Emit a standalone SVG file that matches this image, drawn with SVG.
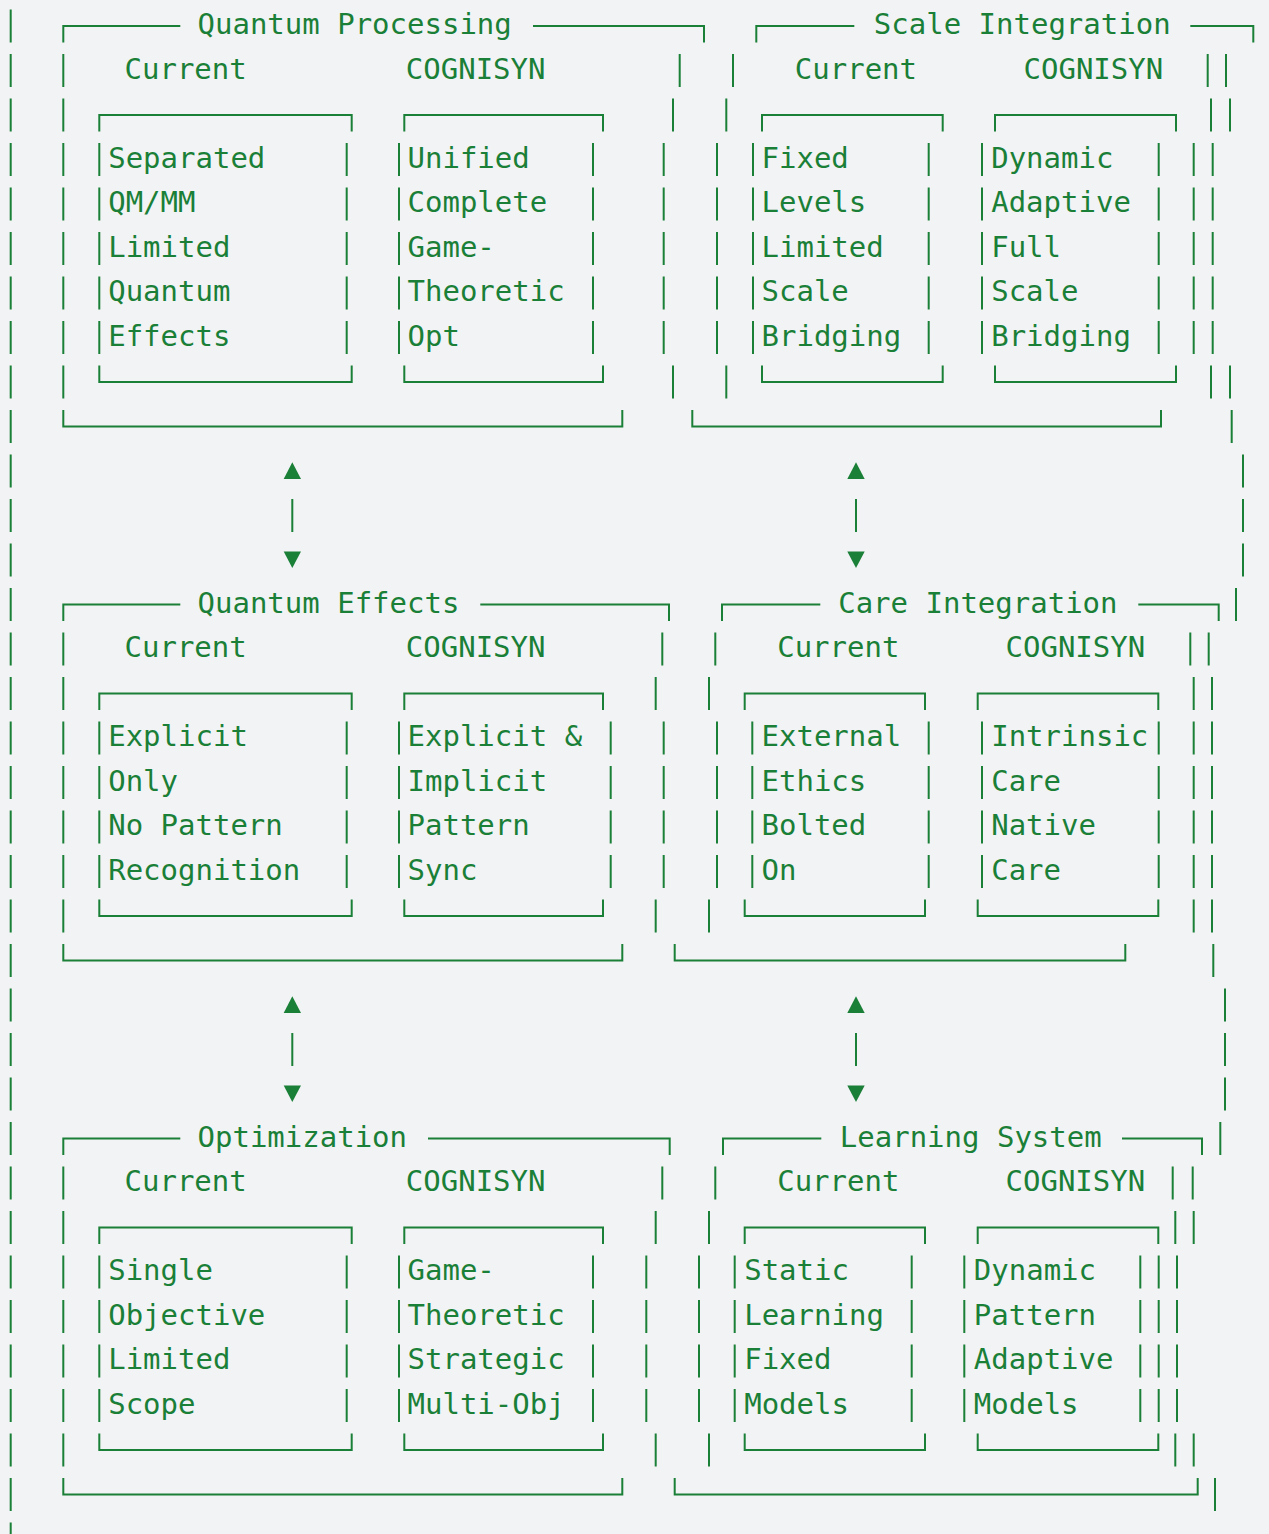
<svg xmlns="http://www.w3.org/2000/svg" width="1269" height="1534" viewBox="0 0 1269 1534">
<style>
.t{font-family:"DejaVu Sans Mono","Liberation Mono",monospace;font-size:29px;fill:#1a7f37}
.l{stroke:#1a7f37;stroke-width:2;fill:none}
.d{stroke-dasharray:33 11.5}
.a{fill:#1a7f37}
</style>
<rect width="1269" height="1534" fill="#f2f3f5"/>
<g id="container">
<line class="l d" x1="10.7" y1="9.5" x2="10.7" y2="1555.5"/>
<path class="l" d="M1226 54V87M1230 98.5V131.5M1230 365.5V398.5M1231.7 410V443M1236 588V621M1208.7 632.5V665.5M1213.3 944V977M1220.3 1122V1155M1192.7 1166.5V1199.5M1193.7 1211V1244M1193.7 1433.5V1466.5M1215 1478V1511"/>
<line class="l d" x1="1212.7" y1="143" x2="1212.7" y2="354"/>
<line class="l d" x1="1243" y1="454.5" x2="1243" y2="576.5"/>
<line class="l d" x1="1212" y1="677" x2="1212" y2="932.5"/>
<line class="l d" x1="1225" y1="988.5" x2="1225" y2="1110.5"/>
<line class="l d" x1="1177" y1="1255.5" x2="1177" y2="1422"/>
</g>
<g id="quantum-processing">
<path class="l" d="M63.3 42.5V26H180.3M533 26H704V42.5M63.3 410V426.5H622.3V410M99.3 131.5V115H351.7V131.5M99.3 365.5V382H351.7V365.5M404.3 131.5V115H603V131.5M404.3 365.5V382H603V365.5M679.7 54V87M673 98.5V131.5M673 365.5V398.5"/>
<line class="l d" x1="63.3" y1="54" x2="63.3" y2="398.5"/>
<line class="l d" x1="99.3" y1="143" x2="99.3" y2="354"/>
<line class="l d" x1="346.7" y1="143" x2="346.7" y2="354"/>
<line class="l d" x1="399" y1="143" x2="399" y2="354"/>
<line class="l d" x1="593" y1="143" x2="593" y2="354"/>
<line class="l d" x1="663.7" y1="143" x2="663.7" y2="354"/>
<text class="t" x="197.5" y="34">Quantum Processing</text>
<text class="t" x="124.5" y="78.5">Current</text>
<text class="t" x="405.8" y="78.5">COGNISYN</text>
<text class="t"><tspan x="108.2" y="167.5">Separated</tspan><tspan x="108.2" dy="44.5">QM/MM</tspan><tspan x="108.2" dy="44.5">Limited</tspan><tspan x="108.2" dy="44.5">Quantum</tspan><tspan x="108.2" dy="44.5">Effects</tspan></text>
<text class="t"><tspan x="407.5" y="167.5">Unified</tspan><tspan x="407.5" dy="44.5">Complete</tspan><tspan x="407.5" dy="44.5">Game-</tspan><tspan x="407.5" dy="44.5">Theoretic</tspan><tspan x="407.5" dy="44.5">Opt</tspan></text>
</g>
<g id="scale-integration">
<path class="l" d="M756.3 42.5V26H854.3M1190.3 26H1253.3V42.5M692.3 410V426.5H1161V410M762 131.5V115H942.7V131.5M762 365.5V382H942.7V365.5M995 131.5V115H1176V131.5M995 365.5V382H1176V365.5M733 54V87M726.3 98.5V131.5M726.3 365.5V398.5M1207.7 54V87M1211 98.5V131.5M1211 365.5V398.5"/>
<line class="l d" x1="717" y1="143" x2="717" y2="354"/>
<line class="l d" x1="753" y1="143" x2="753" y2="354"/>
<line class="l d" x1="928.7" y1="143" x2="928.7" y2="354"/>
<line class="l d" x1="982" y1="143" x2="982" y2="354"/>
<line class="l d" x1="1158.7" y1="143" x2="1158.7" y2="354"/>
<line class="l d" x1="1193.7" y1="143" x2="1193.7" y2="354"/>
<text class="t" x="873.8" y="34">Scale Integration</text>
<text class="t" x="794.8" y="78.5">Current</text>
<text class="t" x="1023.5" y="78.5">COGNISYN</text>
<text class="t"><tspan x="761.5" y="167.5">Fixed</tspan><tspan x="761.5" dy="44.5">Levels</tspan><tspan x="761.5" dy="44.5">Limited</tspan><tspan x="761.5" dy="44.5">Scale</tspan><tspan x="761.5" dy="44.5">Bridging</tspan></text>
<text class="t"><tspan x="991.2" y="167.5">Dynamic</tspan><tspan x="991.2" dy="44.5">Adaptive</tspan><tspan x="991.2" dy="44.5">Full</tspan><tspan x="991.2" dy="44.5">Scale</tspan><tspan x="991.2" dy="44.5">Bridging</tspan></text>
</g>
<g id="quantum-effects">
<path class="l" d="M63.3 621V604.5H180.3M480.3 604.5H669V621M63.3 944V960.5H622.3V944M99.3 710V693.5H351.7V710M99.3 899.5V916H351.7V899.5M404.3 710V693.5H603V710M404.3 899.5V916H603V899.5M662.3 632.5V665.5M655.7 677V710M655.7 899.5V932.5"/>
<line class="l d" x1="63.3" y1="632.5" x2="63.3" y2="932.5"/>
<line class="l d" x1="99.3" y1="721.5" x2="99.3" y2="888"/>
<line class="l d" x1="346.7" y1="721.5" x2="346.7" y2="888"/>
<line class="l d" x1="399" y1="721.5" x2="399" y2="888"/>
<line class="l d" x1="610.7" y1="721.5" x2="610.7" y2="888"/>
<line class="l d" x1="663.7" y1="721.5" x2="663.7" y2="888"/>
<text class="t" x="197.5" y="612.5">Quantum Effects</text>
<text class="t" x="124.5" y="657">Current</text>
<text class="t" x="405.8" y="657">COGNISYN</text>
<text class="t"><tspan x="108.2" y="746">Explicit</tspan><tspan x="108.2" dy="44.5">Only</tspan><tspan x="108.2" dy="44.5">No Pattern</tspan><tspan x="108.2" dy="44.5">Recognition</tspan></text>
<text class="t"><tspan x="407.5" y="746">Explicit &amp;</tspan><tspan x="407.5" dy="44.5">Implicit</tspan><tspan x="407.5" dy="44.5">Pattern</tspan><tspan x="407.5" dy="44.5">Sync</tspan></text>
</g>
<g id="care-integration">
<path class="l" d="M722 621V604.5H820.3M1138.3 604.5H1218.7V621M674.7 944V960.5H1125.3V944M744.7 710V693.5H925V710M744.7 899.5V916H925V899.5M977.7 710V693.5H1158.3V710M977.7 899.5V916H1158.3V899.5M715.3 632.5V665.5M709 677V710M709 899.5V932.5M1190.3 632.5V665.5"/>
<line class="l d" x1="717" y1="721.5" x2="717" y2="888"/>
<line class="l d" x1="752.3" y1="721.5" x2="752.3" y2="888"/>
<line class="l d" x1="928.7" y1="721.5" x2="928.7" y2="888"/>
<line class="l d" x1="982" y1="721.5" x2="982" y2="888"/>
<line class="l d" x1="1158.7" y1="721.5" x2="1158.7" y2="888"/>
<line class="l d" x1="1193.7" y1="677" x2="1193.7" y2="932.5"/>
<text class="t" x="838.2" y="612.5">Care Integration</text>
<text class="t" x="777.2" y="657">Current</text>
<text class="t" x="1005.5" y="657">COGNISYN</text>
<text class="t"><tspan x="761.5" y="746">External</tspan><tspan x="761.5" dy="44.5">Ethics</tspan><tspan x="761.5" dy="44.5">Bolted</tspan><tspan x="761.5" dy="44.5">On</tspan></text>
<text class="t"><tspan x="991.2" y="746">Intrinsic</tspan><tspan x="991.2" dy="44.5">Care</tspan><tspan x="991.2" dy="44.5">Native</tspan><tspan x="991.2" dy="44.5">Care</tspan></text>
</g>
<g id="optimization">
<path class="l" d="M63.3 1155V1138.5H180.3M428 1138.5H669.7V1155M63.3 1478V1494.5H622.3V1478M99.3 1244V1227.5H351.7V1244M99.3 1433.5V1450H351.7V1433.5M404.3 1244V1227.5H603V1244M404.3 1433.5V1450H603V1433.5M662.3 1166.5V1199.5M655.7 1211V1244M655.7 1433.5V1466.5"/>
<line class="l d" x1="63.3" y1="1166.5" x2="63.3" y2="1466.5"/>
<line class="l d" x1="99.3" y1="1255.5" x2="99.3" y2="1422"/>
<line class="l d" x1="346.7" y1="1255.5" x2="346.7" y2="1422"/>
<line class="l d" x1="399" y1="1255.5" x2="399" y2="1422"/>
<line class="l d" x1="593" y1="1255.5" x2="593" y2="1422"/>
<line class="l d" x1="646.3" y1="1255.5" x2="646.3" y2="1422"/>
<text class="t" x="197.5" y="1146.5">Optimization</text>
<text class="t" x="124.5" y="1191">Current</text>
<text class="t" x="405.8" y="1191">COGNISYN</text>
<text class="t"><tspan x="108.2" y="1280">Single</tspan><tspan x="108.2" dy="44.5">Objective</tspan><tspan x="108.2" dy="44.5">Limited</tspan><tspan x="108.2" dy="44.5">Scope</tspan></text>
<text class="t"><tspan x="407.5" y="1280">Game-</tspan><tspan x="407.5" dy="44.5">Theoretic</tspan><tspan x="407.5" dy="44.5">Strategic</tspan><tspan x="407.5" dy="44.5">Multi-Obj</tspan></text>
</g>
<g id="learning-system">
<path class="l" d="M723 1155V1138.5H821.3M1122 1138.5H1202V1155M674.7 1478V1494.5H1197.7V1478M744.7 1244V1227.5H925V1244M744.7 1433.5V1450H925V1433.5M977.7 1244V1227.5H1158.3V1244M977.7 1433.5V1450H1158.3V1433.5M715.3 1166.5V1199.5M709 1211V1244M709 1433.5V1466.5M1172.7 1166.5V1199.5M1175.3 1211V1244M1175.3 1433.5V1466.5"/>
<line class="l d" x1="699" y1="1255.5" x2="699" y2="1422"/>
<line class="l d" x1="734.7" y1="1255.5" x2="734.7" y2="1422"/>
<line class="l d" x1="911.7" y1="1255.5" x2="911.7" y2="1422"/>
<line class="l d" x1="964.3" y1="1255.5" x2="964.3" y2="1422"/>
<line class="l d" x1="1140.3" y1="1255.5" x2="1140.3" y2="1422"/>
<line class="l d" x1="1158.7" y1="1255.5" x2="1158.7" y2="1422"/>
<text class="t" x="839.8" y="1146.5">Learning System</text>
<text class="t" x="777.2" y="1191">Current</text>
<text class="t" x="1005.5" y="1191">COGNISYN</text>
<text class="t"><tspan x="744.2" y="1280">Static</tspan><tspan x="744.2" dy="44.5">Learning</tspan><tspan x="744.2" dy="44.5">Fixed</tspan><tspan x="744.2" dy="44.5">Models</tspan></text>
<text class="t"><tspan x="973.8" y="1280">Dynamic</tspan><tspan x="973.8" dy="44.5">Pattern</tspan><tspan x="973.8" dy="44.5">Adaptive</tspan><tspan x="973.8" dy="44.5">Models</tspan></text>
</g>
<g id="connectors">
<path class="l" d="M292.3 499V532M856 499V532M292.3 1033V1066M856 1033V1066"/>
<polygon class="a" points="283.7,479 301,479 292.3,462.3"/>
<polygon class="a" points="283.7,551.5 301,551.5 292.3,568"/>
<polygon class="a" points="847.3,479 864.7,479 856,462.3"/>
<polygon class="a" points="847.3,551.5 864.7,551.5 856,568"/>
<polygon class="a" points="283.7,1013 301,1013 292.3,996.3"/>
<polygon class="a" points="283.7,1085.5 301,1085.5 292.3,1102"/>
<polygon class="a" points="847.3,1013 864.7,1013 856,996.3"/>
<polygon class="a" points="847.3,1085.5 864.7,1085.5 856,1102"/>
</g>
</svg>
